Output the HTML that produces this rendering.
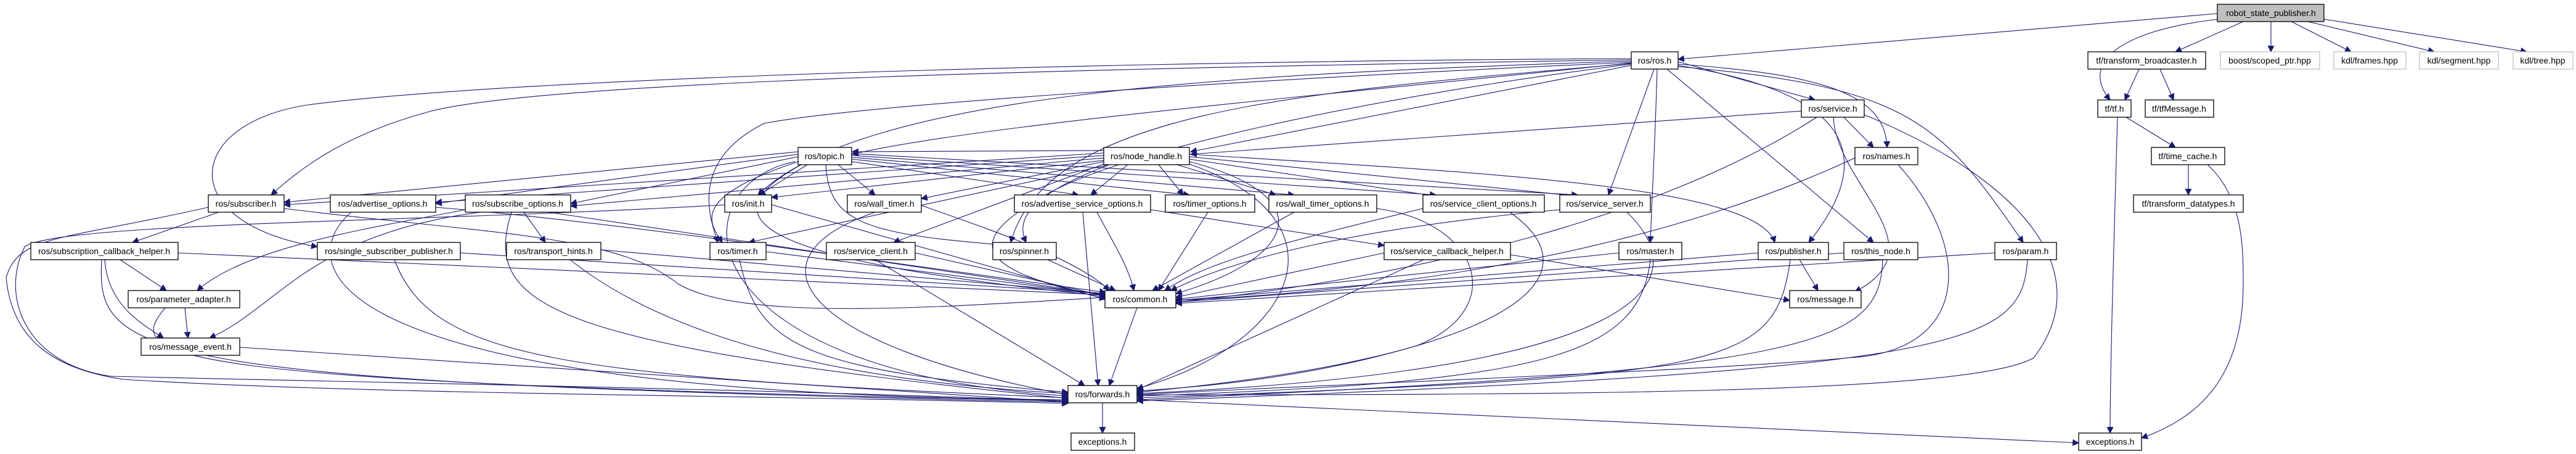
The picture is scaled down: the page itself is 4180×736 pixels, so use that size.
<!DOCTYPE html>
<html><head><meta charset="utf-8"><style>
html,body{margin:0;padding:0;background:#fff;}
svg{display:block;}
text{font-family:"Liberation Sans",sans-serif;font-size:14px;text-anchor:middle;fill:#000;}
.n{fill:#fff;stroke:#000;stroke-width:1.3;}
.g{fill:#fff;stroke:#bfbfbf;stroke-width:1.3;}
.e path{fill:none;stroke:#191970;stroke-width:1.1;}
</style></head><body>
<svg width="4180" height="736" viewBox="0 0 4180 736" xmlns="http://www.w3.org/2000/svg">
<defs><marker id="a" viewBox="0 0 10 10" refX="9" refY="5" markerWidth="11" markerHeight="11" markerUnits="userSpaceOnUse" orient="auto"><path d="M0,0 L10,5 L0,10 z" fill="#191970"/></marker></defs>
<g class="e" marker-end="url(#a)">
<!-- robot_state_publisher -->
<path d="M3598 22 L2723 96"/>
<path d="M3610 30 C3420 50 3380 110 3424 162"/>
<path d="M3640 35 L3530 84"/>
<path d="M3685 35 L3685 84"/>
<path d="M3718 35 L3815 84"/>
<path d="M3745 35 L3950 84"/>
<path d="M3771 31 L4100 84"/>
<path d="M3471 112 L3448 162"/>
<path d="M3505 112 L3527 162"/>
<path d="M3450 190 L3530 239"/>
<path d="M3436 190 C3430 400 3424 600 3424 702"/>
<path d="M3551 267 L3551 316"/>
<path d="M3582 267 C3640 320 3640 400 3640 460 C3640 620 3560 680 3475 710"/>
<!-- forwards / common -->
<path d="M1789 653 L1789 702"/>
<path d="M1845 648 L3373 718"/>
<path d="M1845 499 L1800 625"/>
<!-- ros.h -->
<path d="M2723 100 L2945 162"/>
<path d="M2723 104 C2950 120 3060 150 3062 239"/>
<path d="M2723 106 C3000 150 3050 250 2935 393"/>
<path d="M2705 112 L3040 393"/>
<path d="M2723 108 C3100 140 3150 200 3283 393"/>
<path d="M2689 112 C2685 250 2680 330 2678 393"/>
<path d="M2684 112 L2610 316"/>
<path d="M2647 106 L1932 246"/>
<path d="M2647 102 C2200 150 1600 200 1383 250"/>
<path d="M2647 97 C1800 110 900 130 700 180 C550 220 480 280 440 316"/>
<path d="M2647 95 C1700 100 800 130 500 170 C300 200 280 360 515 400"/>
<path d="M2647 99 C2000 120 1400 150 1230 316"/>
<path d="M2647 101 C2000 130 1400 170 1240 200 C1120 260 1150 350 1165 393"/>
<path d="M2647 103 C2100 150 1700 180 1640 393"/>
<path d="M2647 104 C2200 160 1800 250 1690 320 C1550 400 1600 440 1794 484"/>
<!-- service.h -->
<path d="M2923 180 L1932 250"/>
<path d="M2992 190 L3040 239"/>
<path d="M2948 190 C2700 350 2300 450 1908 490"/>
<path d="M2975 190 C2980 300 3150 400 3010 473"/>
<path d="M3025 186 C3300 300 3400 450 3300 580 C3200 640 2500 640 1845 640"/>
<!-- names, publisher, this_node, param, master -->
<path d="M3010 256 C2700 400 2300 470 1908 487"/>
<path d="M3080 267 C3200 400 3200 570 3000 580 C2800 600 2000 630 1845 640"/>
<path d="M2920 421 L2950 471"/>
<path d="M2853 410 L1908 487"/>
<path d="M2905 421 C2880 600 2800 610 1845 645"/>
<path d="M2992 410 L1908 490"/>
<path d="M3055 421 C3050 560 2950 600 1845 648"/>
<path d="M3237 410 L1908 492"/>
<path d="M3290 421 C3280 560 3200 600 1845 650"/>
<path d="M2627 410 L1908 485"/>
<path d="M2678 421 C2660 580 2500 620 1845 642"/>
<!-- row4 right -->
<path d="M2531 340 C2200 370 2000 420 1900 471"/>
<path d="M2640 344 C2750 450 2700 600 1845 638"/>
<path d="M2309 338 C2050 400 1950 430 1890 471"/>
<path d="M2450 344 C2600 450 2450 580 1845 636"/>
<path d="M2100 344 L1870 471"/>
<path d="M2234 338 C2400 360 2450 500 2300 560 C2100 620 1900 630 1845 634"/>
<path d="M1960 344 L1880 471"/>
<path d="M1780 344 C1810 400 1830 430 1840 471"/>
<path d="M1757 344 L1782 625"/>
<path d="M1867 340 L2246 398"/>
<path d="M2246 410 L1908 482"/>
<path d="M2310 421 L1845 632"/>
<path d="M2451 413 L2904 487"/>
<path d="M1700 421 L1810 471"/>
<path d="M1485 410 L1794 480"/>
<path d="M1420 421 L1760 625"/>
<path d="M1243 408 L1794 478"/>
<path d="M1200 421 C1230 560 1300 600 1733 636"/>
<path d="M1252 332 L1794 485"/>
<path d="M1176 332 C700 360 100 360 40 400 C0 480 40 590 180 610 C600 620 1200 630 1733 650"/>
<path d="M1495 333 C1600 370 1750 420 1800 471"/>
<path d="M1420 344 C1200 420 1300 560 1733 640"/>
<path d="M975 405 L1794 476"/>
<path d="M925 421 C1100 560 1400 620 1733 638"/>
<path d="M747 410 L1794 476"/>
<path d="M640 421 C700 580 900 610 1733 645"/>
<!-- left -->
<path d="M289 410 L1794 478"/>
<path d="M195 421 L270 471"/>
<path d="M170 421 C175 500 240 530 265 548"/>
<path d="M165 421 C155 580 220 620 1733 652"/>
<path d="M300 499 L305 548"/>
<path d="M268 499 C200 580 240 620 1733 650"/>
<path d="M389 563 L1733 652"/>
<path d="M355 344 L215 393"/>
<path d="M338 336 C100 390 30 380 10 450 C20 560 100 600 200 615 C600 640 1200 640 1733 654"/>
<path d="M461 338 C800 380 1000 380 1100 460 C1200 520 1500 500 1794 482"/>
<path d="M570 344 C480 420 480 640 1733 648"/>
<path d="M707 336 C1000 360 1400 420 1794 474"/>
<path d="M755 340 C600 370 400 400 320 471"/>
<path d="M780 344 C500 380 450 500 340 548"/>
<path d="M850 344 L885 393"/>
<path d="M890 344 L1794 478"/>
<path d="M830 344 C780 500 900 560 1733 646"/>
<!-- topic -->
<path d="M1295 246 L461 328"/>
<path d="M1295 250 L707 330"/>
<path d="M1295 254 L926 330"/>
<path d="M1310 267 L1232 316"/>
<path d="M1360 267 L1420 316"/>
<path d="M1295 262 C1120 320 1150 360 1172 393"/>
<path d="M1382 262 L1750 316"/>
<path d="M1382 258 L1930 316"/>
<path d="M1382 255 L2100 316"/>
<path d="M1382 252 L2330 316"/>
<path d="M1382 249 L2560 316"/>
<path d="M1340 267 C1345 360 1400 380 1640 398"/>
<path d="M1300 267 C1150 350 1200 420 1794 480"/>
<path d="M1290 262 C1100 300 1100 600 1733 642"/>
<!-- node_handle -->
<path d="M1791 248 L461 332"/>
<path d="M1791 252 L707 328"/>
<path d="M1791 256 L926 334"/>
<path d="M1791 260 L1252 320"/>
<path d="M1791 262 L1495 322"/>
<path d="M1800 267 L1215 393"/>
<path d="M1830 267 L1770 316"/>
<path d="M1880 267 L1920 316"/>
<path d="M1910 267 L2070 316"/>
<path d="M1930 258 L2330 318"/>
<path d="M1930 254 L2560 318"/>
<path d="M1791 266 L1450 393"/>
<path d="M1800 267 C1660 320 1650 360 1665 393"/>
<path d="M1930 250 C2400 280 2850 300 2880 393"/>
<path d="M1930 262 C2150 320 2100 420 1908 476"/>
<path d="M1930 266 C2200 360 2100 560 1845 630"/>
<path d="M1791 244 L1383 246"/>
</g>
<!-- nodes -->
<g>
<rect x="3598" y="7" width="173" height="28" fill="#bfbfbf" stroke="#000" stroke-width="1.3"/><text x="3685" y="26">robot_state_publisher.h</text>
<rect class="n" x="2647" y="84" width="76" height="28"/><text x="2685" y="103">ros/ros.h</text>
<rect class="n" x="3388" y="84" width="191" height="28"/><text x="3483" y="103">tf/transform_broadcaster.h</text>
<rect class="g" x="3603" y="84" width="161" height="28"/><text x="3683" y="103">boost/scoped_ptr.hpp</text>
<rect class="g" x="3787" y="84" width="117" height="28"/><text x="3845" y="103">kdl/frames.hpp</text>
<rect class="g" x="3926" y="84" width="128" height="28"/><text x="3990" y="103">kdl/segment.hpp</text>
<rect class="g" x="4078" y="84" width="97" height="28"/><text x="4126" y="103">kdl/tree.hpp</text>
<rect class="n" x="2923" y="162" width="102" height="28"/><text x="2974" y="181">ros/service.h</text>
<rect class="n" x="3404" y="162" width="54" height="28"/><text x="3431" y="181">tf/tf.h</text>
<rect class="n" x="3481" y="162" width="111" height="28"/><text x="3536" y="181">tf/tfMessage.h</text>
<rect class="n" x="1295" y="239" width="87" height="28"/><text x="1338" y="258">ros/topic.h</text>
<rect class="n" x="1791" y="239" width="139" height="28"/><text x="1860" y="258">ros/node_handle.h</text>
<rect class="n" x="3010" y="239" width="102" height="28"/><text x="3061" y="258">ros/names.h</text>
<rect class="n" x="3491" y="239" width="119" height="28"/><text x="3550" y="258">tf/time_cache.h</text>
<rect class="n" x="338" y="316" width="123" height="28"/><text x="399" y="335">ros/subscriber.h</text>
<rect class="n" x="536" y="316" width="171" height="28"/><text x="621" y="335">ros/advertise_options.h</text>
<rect class="n" x="755" y="316" width="171" height="28"/><text x="840" y="335">ros/subscribe_options.h</text>
<rect class="n" x="1176" y="316" width="76" height="28"/><text x="1214" y="335">ros/init.h</text>
<rect class="n" x="1375" y="316" width="120" height="28"/><text x="1435" y="335">ros/wall_timer.h</text>
<rect class="n" x="1646" y="316" width="221" height="28"/><text x="1756" y="335">ros/advertise_service_options.h</text>
<rect class="n" x="1891" y="316" width="145" height="28"/><text x="1963" y="335">ros/timer_options.h</text>
<rect class="n" x="2059" y="316" width="175" height="28"/><text x="2146" y="335">ros/wall_timer_options.h</text>
<rect class="n" x="2309" y="316" width="197" height="28"/><text x="2407" y="335">ros/service_client_options.h</text>
<rect class="n" x="2531" y="316" width="147" height="28"/><text x="2604" y="335">ros/service_server.h</text>
<rect class="n" x="3462" y="316" width="178" height="28"/><text x="3551" y="335">tf/transform_datatypes.h</text>
<rect class="n" x="50" y="393" width="239" height="28"/><text x="169" y="412">ros/subscription_callback_helper.h</text>
<rect class="n" x="515" y="393" width="232" height="28"/><text x="631" y="412">ros/single_subscriber_publisher.h</text>
<rect class="n" x="822" y="393" width="153" height="28"/><text x="898" y="412">ros/transport_hints.h</text>
<rect class="n" x="1152" y="393" width="91" height="28"/><text x="1197" y="412">ros/timer.h</text>
<rect class="n" x="1341" y="393" width="144" height="28"/><text x="1413" y="412">ros/service_client.h</text>
<rect class="n" x="1611" y="393" width="103" height="28"/><text x="1662" y="412">ros/spinner.h</text>
<rect class="n" x="2246" y="393" width="205" height="28"/><text x="2348" y="412">ros/service_callback_helper.h</text>
<rect class="n" x="2627" y="393" width="102" height="28"/><text x="2678" y="412">ros/master.h</text>
<rect class="n" x="2853" y="393" width="114" height="28"/><text x="2910" y="412">ros/publisher.h</text>
<rect class="n" x="2992" y="393" width="120" height="28"/><text x="3052" y="412">ros/this_node.h</text>
<rect class="n" x="3237" y="393" width="100" height="28"/><text x="3287" y="412">ros/param.h</text>
<rect class="n" x="208" y="471" width="181" height="28"/><text x="298" y="490">ros/parameter_adapter.h</text>
<rect class="n" x="1793" y="471" width="115" height="28"/><text x="1850" y="490">ros/common.h</text>
<rect class="n" x="2904" y="471" width="116" height="28"/><text x="2962" y="490">ros/message.h</text>
<rect class="n" x="229" y="548" width="160" height="28"/><text x="309" y="567">ros/message_event.h</text>
<rect class="n" x="1733" y="625" width="112" height="28"/><text x="1789" y="644">ros/forwards.h</text>
<rect class="n" x="1738" y="702" width="103" height="28"/><text x="1789" y="721">exceptions.h</text>
<rect class="n" x="3373" y="702" width="102" height="28"/><text x="3424" y="721">exceptions.h</text>
</g>
</svg>
</body></html>
